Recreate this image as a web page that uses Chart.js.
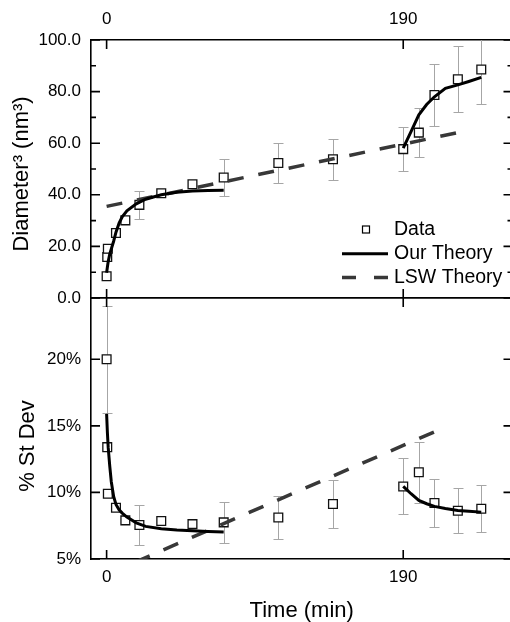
<!DOCTYPE html>
<html>
<head>
<meta charset="utf-8">
<title>Diameter³ and % St Dev vs time</title>
<script src="https://cdn.jsdelivr.net/npm/chart.js@4.4.1/dist/chart.umd.min.js"></script>
<style>
  html, body { margin: 0; padding: 0; background: #fff; width: 510px; height: 622px; overflow: hidden; }
  #wrap { position: relative; width: 510px; height: 622px; overflow: hidden; }
  canvas { position: absolute; left: 0; }
  #topPanel { top: 0; width: 520px; height: 320px; }
  #bottomPanel { top: 290px; width: 520px; height: 332px; }
</style>
</head>
<body>
<div id="wrap">
  <canvas id="topPanel" width="520" height="320"></canvas>
  <canvas id="bottomPanel" width="520" height="332"></canvas>
</div>
<script>
// measured points (time in min)
const timeMin   = [0, 0.4, 0.8, 6, 12, 21, 35, 55, 75, 110, 145, 190, 200, 210, 225, 240];
const diamCubed = [8.4, 15.9, 19.1, 25.2, 30.1, 36.1, 40.6, 44.1, 46.7, 52.3, 53.8, 57.7, 64.1, 78.7, 84.8, 88.6];
const diamErr   = [null, null, null, null, null, 5.3, null, null, 7.0, 7.7, 8.0, 8.6, 9.6, 11.9, 12.8, 13.4];
const stDev     = [20.0, 13.4, 9.9, 8.85, 7.9, 7.55, 7.85, 7.62, 7.75, 8.12, 9.13, 10.45, 11.52, 9.2, 8.62, 8.77];
const stDevErr  = [4.0, null, null, null, null, 1.5, null, null, 1.55, 1.6, 1.8, 2.1, 2.3, 1.8, 1.7, 1.75];

// "Our Theory" curves, two pieces
const theoryTime1   = [0, 0.5, 1, 2, 3, 4.5, 6, 8, 10, 13, 19, 25, 35, 45, 55, 65, 75];
const diamTheory1   = [9.8, 12, 14, 17, 19, 22, 25.5, 29, 31.5, 33.8, 36.5, 38.3, 40.0, 41.0, 41.5, 41.7, 41.8];
const stDevTheory1  = [15.9, 14.5, 13.4, 12.0, 10.8, 9.7, 9.1, 8.7, 8.45, 8.15, 7.72, 7.45, 7.27, 7.18, 7.12, 7.07, 7.03];
const theoryTime2   = [190, 195, 200, 205, 210, 217, 225, 232, 240];
const diamTheory2   = [58.1, 64.5, 71, 75, 78, 81.3, 82.6, 83.9, 85.5];
const stDevTheory2  = [10.45, 9.9, 9.4, 9.15, 8.95, 8.8, 8.65, 8.58, 8.52];

// LSW theory (straight lines)
const lswDiamTime  = [0, 225];
const lswDiam      = [35.5, 64.1];
const lswStDevTime = [0, 211];
const lswStDev     = [3.83, 14.6];

// axes
const timeTicks   = [0, 190];
const diamTicks   = [0, 20, 40, 60, 80, 100];
const diamMinor   = [10, 30, 50, 70, 90];
const stDevTicks  = [5, 10, 15, 20];

const FONT = "'Liberation Sans', Arial, Helvetica, sans-serif";
Chart.defaults.font.family = FONT;
Chart.defaults.color = '#000';

const pts = (xs, ys) => xs.map((x, i) => ({ x, y: ys[i] }));
const setTicks = values => scale => { scale.ticks = values.map(v => ({ value: v })); };
const fixHeight = h => scale => { scale.height = h; };
// fixed axis width, and no extra room asked for the end labels
const fixWidth = w => scale => {
  scale.width = w;
  scale.paddingTop = 0;
  scale.paddingBottom = 0;
};

const BORDER = { color: '#000', width: 1.6 };
const NO_GRID = { drawOnChartArea: false, drawTicks: false };

// error bars under the squares
function errorBars(times, values, errors) {
  return {
    id: 'errorBars',
    beforeDatasetsDraw(chart) {
      const { ctx, chartArea: a } = chart;
      const xs = chart.scales.x, ys = chart.scales.y;
      ctx.save();
      ctx.beginPath();
      ctx.rect(a.left, a.top, a.right - a.left, a.bottom - a.top);
      ctx.clip();
      ctx.strokeStyle = '#a6a6a6';
      ctx.lineWidth = 1;
      ctx.beginPath();
      times.forEach((t, i) => {
        const err = errors[i];
        if (err == null) return;
        const px = Math.round(xs.getPixelForValue(t)) + 0.5;
        const hi = Math.round(ys.getPixelForValue(values[i] + err)) + 0.5;
        const lo = Math.round(ys.getPixelForValue(values[i] - err)) + 0.5;
        ctx.moveTo(px, hi); ctx.lineTo(px, lo);
        ctx.moveTo(px - 5, hi); ctx.lineTo(px + 5, hi);
        ctx.moveTo(px - 5, lo); ctx.lineTo(px + 5, lo);
      });
      ctx.stroke();
      ctx.restore();
    }
  };
}

// ticks pointing into the plot, on every side
function innerTicks(minorY) {
  return {
    id: 'innerTicks',
    afterDatasetsDraw(chart) {
      const { ctx, chartArea: a, scales } = chart;
      const major = 9, minor = 5;
      ctx.save();
      ctx.strokeStyle = '#000';
      ctx.lineWidth = 1.6;
      ctx.beginPath();
      const hTick = (p, len) => {
        ctx.moveTo(a.left, p); ctx.lineTo(a.left + len, p);
        ctx.moveTo(a.right, p); ctx.lineTo(a.right - len, p);
      };
      scales.y.ticks.forEach(t => hTick(scales.y.getPixelForValue(t.value), major));
      minorY.forEach(v => hTick(scales.y.getPixelForValue(v), minor));
      ['x', 'x2'].forEach(id => {
        const s = scales[id];
        const edge = s.position === 'top' ? a.top : a.bottom;
        const dir = s.position === 'top' ? 1 : -1;
        s.ticks.forEach(t => {
          const p = s.getPixelForValue(t.value);
          ctx.moveTo(p, edge); ctx.lineTo(p, edge + dir * major);
        });
      });
      ctx.stroke();
      ctx.restore();
    }
  };
}

// rotated y axis title
function sideTitle(text, x, shift) {
  return {
    id: 'sideTitle',
    afterDraw(chart) {
      const { ctx, chartArea: a } = chart;
      ctx.save();
      ctx.font = `22px ${FONT}`;
      ctx.fillStyle = '#000';
      ctx.textAlign = 'center';
      ctx.textBaseline = 'middle';
      ctx.translate(x, (a.top + a.bottom) / 2 + shift);
      ctx.rotate(-Math.PI / 2);
      ctx.fillText(text, 0, 0);
      ctx.restore();
    }
  };
}

// legend inside the top panel
const legendBox = {
  id: 'legendBox',
  afterDraw(chart) {
    const { ctx } = chart;
    const x0 = 342, xText = 394, y0 = 230, gap = 23.7;
    ctx.save();
    ctx.font = `19.5px ${FONT}`;
    ctx.textBaseline = 'middle';
    ctx.textAlign = 'left';
    // Data
    ctx.fillStyle = '#fff';
    ctx.strokeStyle = '#000';
    ctx.lineWidth = 1.2;
    ctx.fillRect(362.5, y0 - 4, 7, 7);
    ctx.strokeRect(362.5, y0 - 4, 7, 7);
    ctx.fillStyle = '#000';
    ctx.fillText('Data', xText, y0);
    // Our Theory
    ctx.strokeStyle = '#000';
    ctx.lineWidth = 3;
    ctx.beginPath();
    ctx.moveTo(x0, y0 + gap); ctx.lineTo(388, y0 + gap);
    ctx.stroke();
    ctx.fillText('Our Theory', xText, y0 + gap);
    // LSW Theory
    ctx.strokeStyle = '#383838';
    ctx.lineWidth = 3.5;
    ctx.setLineDash([14, 18]);
    ctx.beginPath();
    ctx.moveTo(x0, y0 + 2 * gap); ctx.lineTo(388, y0 + 2 * gap);
    ctx.stroke();
    ctx.setLineDash([]);
    ctx.fillText('LSW Theory', xText, y0 + 2 * gap);
    ctx.restore();
  }
};

function lineSet(label, data, dashed) {
  return {
    label,
    data,
    xAxisID: 'x',
    yAxisID: 'y',
    borderColor: dashed ? '#383838' : '#000',
    borderWidth: dashed ? 3.5 : 3,
    borderDash: dashed ? [16, 15] : [],
    pointRadius: 0,
    fill: false,
    tension: 0,
    clip: 0
  };
}

function dataSet(data) {
  return {
    label: 'Data',
    data,
    xAxisID: 'x',
    yAxisID: 'y',
    showLine: false,
    pointStyle: 'rect',
    pointRadius: 6.2,
    pointBackgroundColor: '#fff',
    pointBorderColor: '#111',
    pointBorderWidth: 1.3,
    clip: 6
  };
}

function xScales(topLabels, bottomLabels, topH, bottomH) {
  const base = {
    type: 'linear',
    min: -10,
    max: 260,
    afterBuildTicks: setTicks(timeTicks),
    grid: NO_GRID,
    border: BORDER
  };
  return {
    x: {
      ...base,
      position: 'bottom',
      afterFit: fixHeight(bottomH),
      ticks: { display: bottomLabels, font: { size: 17 }, padding: 8, maxRotation: 0, autoSkip: false, callback: v => String(v) },
      title: bottomLabels
        ? { display: true, text: 'Time (min)', font: { size: 22 }, padding: { top: 0, bottom: -2.5 } }
        : { display: false }
    },
    x2: {
      ...base,
      position: 'top',
      afterFit: fixHeight(topH),
      ticks: { display: topLabels, font: { size: 17 }, padding: 10, maxRotation: 0, autoSkip: false, callback: v => String(v) }
    }
  };
}

const common = {
  responsive: false,
  animation: false,
  events: [],
  plugins: { legend: { display: false }, tooltip: { enabled: false } }
};

// top panel: Diameter³
new Chart(document.getElementById('topPanel'), {
  type: 'line',
  data: {
    datasets: [
      lineSet('Our Theory', pts(theoryTime1, diamTheory1), false),
      lineSet('Our Theory', pts(theoryTime2, diamTheory2), false),
      lineSet('LSW Theory', pts(lswDiamTime, lswDiam), true),
      dataSet(pts(timeMin, diamCubed))
    ]
  },
  options: {
    ...common,
    layout: { padding: { left: 0, right: 2, top: 0, bottom: 0 } },
    scales: {
      ...xScales(true, false, 40, 22),
      y: {
        type: 'linear',
        position: 'left',
        min: 0,
        max: 100,
        afterBuildTicks: setTicks(diamTicks),
        afterFit: fixWidth(91),
        ticks: { font: { size: 17 }, padding: 10, callback: v => v.toFixed(1) },
        grid: NO_GRID,
        border: BORDER
      }
    }
  },
  plugins: [errorBars(timeMin, diamCubed, diamErr), innerTicks(diamMinor), sideTitle('Diameter³ (nm³)', 21.7, 5), legendBox]
});

// bottom panel: % St Dev
new Chart(document.getElementById('bottomPanel'), {
  type: 'line',
  data: {
    datasets: [
      lineSet('Our Theory', pts(theoryTime1, stDevTheory1), false),
      lineSet('Our Theory', pts(theoryTime2, stDevTheory2), false),
      lineSet('LSW Theory', pts(lswStDevTime, lswStDev), true),
      dataSet(pts(timeMin, stDev))
    ]
  },
  options: {
    ...common,
    layout: { padding: { left: 0, right: 2, top: 0, bottom: 0 } },
    scales: {
      ...xScales(false, true, 8, 63),
      y: {
        type: 'linear',
        position: 'left',
        min: 5,
        max: 24.6,
        afterBuildTicks: setTicks(stDevTicks),
        afterFit: fixWidth(91),
        ticks: { font: { size: 17 }, padding: 10, callback: v => v + '%' },
        grid: NO_GRID,
        border: BORDER
      }
    }
  },
  plugins: [errorBars(timeMin, stDev, stDevErr), innerTicks([]), sideTitle('% St Dev', 27.5, 17.5)]
});
</script>
</body>
</html>
